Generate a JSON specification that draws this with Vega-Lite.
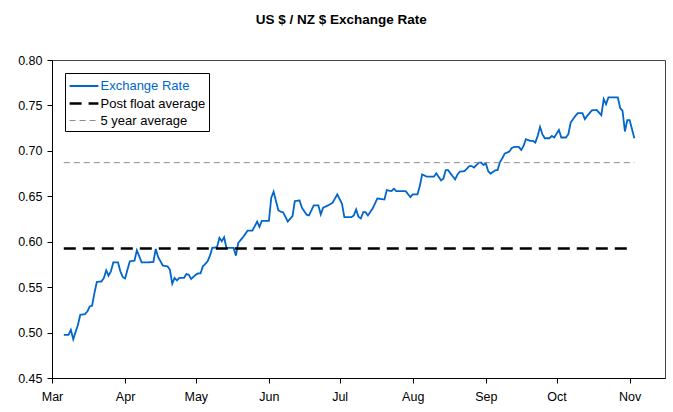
{
  "$schema": "https://vega.github.io/schema/vega-lite/v6.json",
  "width": 613,
  "height": 318,
  "autosize": {"type": "none"},
  "padding": {"left": 52, "top": 60, "right": 8, "bottom": 34},
  "background": "white",
  "title": {"text": "US $ / NZ $ Exchange Rate", "font": "Liberation Sans", "fontSize": 13.5, "fontWeight": "bold", "color": "#000000", "anchor": "middle", "frame": "bounds", "offset": 28},
  "config": {
    "font": "Liberation Sans",
    "view": {"stroke": "#444444", "strokeWidth": 1},
    "axis": {"labelFont": "Liberation Sans", "labelFontSize": 12.5, "labelColor": "#000000", "domainColor": "#000000", "tickColor": "#000000", "tickSize": 5, "grid": false, "title": null}
  },
  "data": {"values": [
    {"date": "2009-03-06", "rate": 0.4975, "series": "Exchange Rate"},
    {"date": "2009-03-08", "rate": 0.4975, "series": "Exchange Rate"},
    {"date": "2009-03-09", "rate": 0.503, "series": "Exchange Rate"},
    {"date": "2009-03-10", "rate": 0.4927, "series": "Exchange Rate"},
    {"date": "2009-03-12", "rate": 0.5085, "series": "Exchange Rate"},
    {"date": "2009-03-13", "rate": 0.5196, "series": "Exchange Rate"},
    {"date": "2009-03-15", "rate": 0.5203, "series": "Exchange Rate"},
    {"date": "2009-03-16", "rate": 0.5232, "series": "Exchange Rate"},
    {"date": "2009-03-17", "rate": 0.5287, "series": "Exchange Rate"},
    {"date": "2009-03-18", "rate": 0.5295, "series": "Exchange Rate"},
    {"date": "2009-03-19", "rate": 0.5435, "series": "Exchange Rate"},
    {"date": "2009-03-20", "rate": 0.5557, "series": "Exchange Rate"},
    {"date": "2009-03-22", "rate": 0.5563, "series": "Exchange Rate"},
    {"date": "2009-03-23", "rate": 0.5601, "series": "Exchange Rate"},
    {"date": "2009-03-24", "rate": 0.5685, "series": "Exchange Rate"},
    {"date": "2009-03-25", "rate": 0.5626, "series": "Exchange Rate"},
    {"date": "2009-03-26", "rate": 0.5674, "series": "Exchange Rate"},
    {"date": "2009-03-27", "rate": 0.5773, "series": "Exchange Rate"},
    {"date": "2009-03-29", "rate": 0.5773, "series": "Exchange Rate"},
    {"date": "2009-03-30", "rate": 0.5674, "series": "Exchange Rate"},
    {"date": "2009-03-31", "rate": 0.5612, "series": "Exchange Rate"},
    {"date": "2009-04-01", "rate": 0.5596, "series": "Exchange Rate"},
    {"date": "2009-04-02", "rate": 0.5692, "series": "Exchange Rate"},
    {"date": "2009-04-03", "rate": 0.5784, "series": "Exchange Rate"},
    {"date": "2009-04-05", "rate": 0.5792, "series": "Exchange Rate"},
    {"date": "2009-04-06", "rate": 0.5906, "series": "Exchange Rate"},
    {"date": "2009-04-08", "rate": 0.5773, "series": "Exchange Rate"},
    {"date": "2009-04-11", "rate": 0.5773, "series": "Exchange Rate"},
    {"date": "2009-04-13", "rate": 0.5777, "series": "Exchange Rate"},
    {"date": "2009-04-14", "rate": 0.5921, "series": "Exchange Rate"},
    {"date": "2009-04-15", "rate": 0.5833, "series": "Exchange Rate"},
    {"date": "2009-04-17", "rate": 0.5737, "series": "Exchange Rate"},
    {"date": "2009-04-19", "rate": 0.5729, "series": "Exchange Rate"},
    {"date": "2009-04-20", "rate": 0.5692, "series": "Exchange Rate"},
    {"date": "2009-04-21", "rate": 0.5538, "series": "Exchange Rate"},
    {"date": "2009-04-22", "rate": 0.5601, "series": "Exchange Rate"},
    {"date": "2009-04-23", "rate": 0.5574, "series": "Exchange Rate"},
    {"date": "2009-04-24", "rate": 0.5601, "series": "Exchange Rate"},
    {"date": "2009-04-26", "rate": 0.5601, "series": "Exchange Rate"},
    {"date": "2009-04-27", "rate": 0.5645, "series": "Exchange Rate"},
    {"date": "2009-04-28", "rate": 0.5637, "series": "Exchange Rate"},
    {"date": "2009-04-29", "rate": 0.559, "series": "Exchange Rate"},
    {"date": "2009-05-01", "rate": 0.5637, "series": "Exchange Rate"},
    {"date": "2009-05-02", "rate": 0.5652, "series": "Exchange Rate"},
    {"date": "2009-05-03", "rate": 0.5652, "series": "Exchange Rate"},
    {"date": "2009-05-04", "rate": 0.5729, "series": "Exchange Rate"},
    {"date": "2009-05-06", "rate": 0.5784, "series": "Exchange Rate"},
    {"date": "2009-05-07", "rate": 0.5847, "series": "Exchange Rate"},
    {"date": "2009-05-08", "rate": 0.5932, "series": "Exchange Rate"},
    {"date": "2009-05-10", "rate": 0.5939, "series": "Exchange Rate"},
    {"date": "2009-05-11", "rate": 0.6042, "series": "Exchange Rate"},
    {"date": "2009-05-12", "rate": 0.6005, "series": "Exchange Rate"},
    {"date": "2009-05-13", "rate": 0.6049, "series": "Exchange Rate"},
    {"date": "2009-05-14", "rate": 0.5932, "series": "Exchange Rate"},
    {"date": "2009-05-17", "rate": 0.5932, "series": "Exchange Rate"},
    {"date": "2009-05-18", "rate": 0.5847, "series": "Exchange Rate"},
    {"date": "2009-05-19", "rate": 0.5987, "series": "Exchange Rate"},
    {"date": "2009-05-21", "rate": 0.6049, "series": "Exchange Rate"},
    {"date": "2009-05-23", "rate": 0.6123, "series": "Exchange Rate"},
    {"date": "2009-05-25", "rate": 0.6123, "series": "Exchange Rate"},
    {"date": "2009-05-26", "rate": 0.617, "series": "Exchange Rate"},
    {"date": "2009-05-27", "rate": 0.6222, "series": "Exchange Rate"},
    {"date": "2009-05-28", "rate": 0.6164, "series": "Exchange Rate"},
    {"date": "2009-05-29", "rate": 0.623, "series": "Exchange Rate"},
    {"date": "2009-06-01", "rate": 0.623, "series": "Exchange Rate"},
    {"date": "2009-06-02", "rate": 0.6484, "series": "Exchange Rate"},
    {"date": "2009-06-03", "rate": 0.655, "series": "Exchange Rate"},
    {"date": "2009-06-05", "rate": 0.6347, "series": "Exchange Rate"},
    {"date": "2009-06-06", "rate": 0.633, "series": "Exchange Rate"},
    {"date": "2009-06-07", "rate": 0.6325, "series": "Exchange Rate"},
    {"date": "2009-06-08", "rate": 0.6274, "series": "Exchange Rate"},
    {"date": "2009-06-09", "rate": 0.6222, "series": "Exchange Rate"},
    {"date": "2009-06-11", "rate": 0.6281, "series": "Exchange Rate"},
    {"date": "2009-06-12", "rate": 0.6447, "series": "Exchange Rate"},
    {"date": "2009-06-14", "rate": 0.6454, "series": "Exchange Rate"},
    {"date": "2009-06-15", "rate": 0.6374, "series": "Exchange Rate"},
    {"date": "2009-06-17", "rate": 0.6296, "series": "Exchange Rate"},
    {"date": "2009-06-18", "rate": 0.6289, "series": "Exchange Rate"},
    {"date": "2009-06-20", "rate": 0.6399, "series": "Exchange Rate"},
    {"date": "2009-06-22", "rate": 0.6399, "series": "Exchange Rate"},
    {"date": "2009-06-23", "rate": 0.63, "series": "Exchange Rate"},
    {"date": "2009-06-24", "rate": 0.6374, "series": "Exchange Rate"},
    {"date": "2009-06-26", "rate": 0.6399, "series": "Exchange Rate"},
    {"date": "2009-06-28", "rate": 0.6429, "series": "Exchange Rate"},
    {"date": "2009-06-30", "rate": 0.652, "series": "Exchange Rate"},
    {"date": "2009-07-02", "rate": 0.6418, "series": "Exchange Rate"},
    {"date": "2009-07-03", "rate": 0.627, "series": "Exchange Rate"},
    {"date": "2009-07-06", "rate": 0.627, "series": "Exchange Rate"},
    {"date": "2009-07-07", "rate": 0.6289, "series": "Exchange Rate"},
    {"date": "2009-07-08", "rate": 0.6355, "series": "Exchange Rate"},
    {"date": "2009-07-09", "rate": 0.6274, "series": "Exchange Rate"},
    {"date": "2009-07-10", "rate": 0.6256, "series": "Exchange Rate"},
    {"date": "2009-07-11", "rate": 0.6325, "series": "Exchange Rate"},
    {"date": "2009-07-12", "rate": 0.6325, "series": "Exchange Rate"},
    {"date": "2009-07-13", "rate": 0.6289, "series": "Exchange Rate"},
    {"date": "2009-07-15", "rate": 0.6366, "series": "Exchange Rate"},
    {"date": "2009-07-17", "rate": 0.6476, "series": "Exchange Rate"},
    {"date": "2009-07-20", "rate": 0.6465, "series": "Exchange Rate"},
    {"date": "2009-07-21", "rate": 0.6568, "series": "Exchange Rate"},
    {"date": "2009-07-23", "rate": 0.6557, "series": "Exchange Rate"},
    {"date": "2009-07-24", "rate": 0.6583, "series": "Exchange Rate"},
    {"date": "2009-07-25", "rate": 0.6557, "series": "Exchange Rate"},
    {"date": "2009-07-29", "rate": 0.6557, "series": "Exchange Rate"},
    {"date": "2009-07-31", "rate": 0.6491, "series": "Exchange Rate"},
    {"date": "2009-08-01", "rate": 0.652, "series": "Exchange Rate"},
    {"date": "2009-08-03", "rate": 0.652, "series": "Exchange Rate"},
    {"date": "2009-08-04", "rate": 0.6612, "series": "Exchange Rate"},
    {"date": "2009-08-05", "rate": 0.6741, "series": "Exchange Rate"},
    {"date": "2009-08-07", "rate": 0.6716, "series": "Exchange Rate"},
    {"date": "2009-08-10", "rate": 0.6716, "series": "Exchange Rate"},
    {"date": "2009-08-11", "rate": 0.6752, "series": "Exchange Rate"},
    {"date": "2009-08-13", "rate": 0.6675, "series": "Exchange Rate"},
    {"date": "2009-08-14", "rate": 0.6694, "series": "Exchange Rate"},
    {"date": "2009-08-15", "rate": 0.6789, "series": "Exchange Rate"},
    {"date": "2009-08-16", "rate": 0.6789, "series": "Exchange Rate"},
    {"date": "2009-08-17", "rate": 0.6752, "series": "Exchange Rate"},
    {"date": "2009-08-19", "rate": 0.6686, "series": "Exchange Rate"},
    {"date": "2009-08-20", "rate": 0.6741, "series": "Exchange Rate"},
    {"date": "2009-08-21", "rate": 0.6771, "series": "Exchange Rate"},
    {"date": "2009-08-23", "rate": 0.6778, "series": "Exchange Rate"},
    {"date": "2009-08-25", "rate": 0.6833, "series": "Exchange Rate"},
    {"date": "2009-08-26", "rate": 0.6833, "series": "Exchange Rate"},
    {"date": "2009-08-27", "rate": 0.6815, "series": "Exchange Rate"},
    {"date": "2009-08-29", "rate": 0.687, "series": "Exchange Rate"},
    {"date": "2009-08-30", "rate": 0.687, "series": "Exchange Rate"},
    {"date": "2009-08-31", "rate": 0.6844, "series": "Exchange Rate"},
    {"date": "2009-09-01", "rate": 0.6863, "series": "Exchange Rate"},
    {"date": "2009-09-02", "rate": 0.6778, "series": "Exchange Rate"},
    {"date": "2009-09-03", "rate": 0.6749, "series": "Exchange Rate"},
    {"date": "2009-09-05", "rate": 0.6785, "series": "Exchange Rate"},
    {"date": "2009-09-06", "rate": 0.6789, "series": "Exchange Rate"},
    {"date": "2009-09-07", "rate": 0.6877, "series": "Exchange Rate"},
    {"date": "2009-09-08", "rate": 0.6918, "series": "Exchange Rate"},
    {"date": "2009-09-09", "rate": 0.697, "series": "Exchange Rate"},
    {"date": "2009-09-11", "rate": 0.6993, "series": "Exchange Rate"},
    {"date": "2009-09-12", "rate": 0.7031, "series": "Exchange Rate"},
    {"date": "2009-09-13", "rate": 0.7043, "series": "Exchange Rate"},
    {"date": "2009-09-15", "rate": 0.7043, "series": "Exchange Rate"},
    {"date": "2009-09-16", "rate": 0.701, "series": "Exchange Rate"},
    {"date": "2009-09-17", "rate": 0.7054, "series": "Exchange Rate"},
    {"date": "2009-09-18", "rate": 0.7128, "series": "Exchange Rate"},
    {"date": "2009-09-20", "rate": 0.7109, "series": "Exchange Rate"},
    {"date": "2009-09-21", "rate": 0.7109, "series": "Exchange Rate"},
    {"date": "2009-09-22", "rate": 0.7091, "series": "Exchange Rate"},
    {"date": "2009-09-23", "rate": 0.7164, "series": "Exchange Rate"},
    {"date": "2009-09-24", "rate": 0.7264, "series": "Exchange Rate"},
    {"date": "2009-09-25", "rate": 0.7183, "series": "Exchange Rate"},
    {"date": "2009-09-26", "rate": 0.7139, "series": "Exchange Rate"},
    {"date": "2009-09-28", "rate": 0.7139, "series": "Exchange Rate"},
    {"date": "2009-09-29", "rate": 0.7164, "series": "Exchange Rate"},
    {"date": "2009-09-30", "rate": 0.7147, "series": "Exchange Rate"},
    {"date": "2009-10-02", "rate": 0.723, "series": "Exchange Rate"},
    {"date": "2009-10-03", "rate": 0.7147, "series": "Exchange Rate"},
    {"date": "2009-10-05", "rate": 0.7147, "series": "Exchange Rate"},
    {"date": "2009-10-06", "rate": 0.7183, "series": "Exchange Rate"},
    {"date": "2009-10-07", "rate": 0.7312, "series": "Exchange Rate"},
    {"date": "2009-10-08", "rate": 0.7349, "series": "Exchange Rate"},
    {"date": "2009-10-09", "rate": 0.7385, "series": "Exchange Rate"},
    {"date": "2009-10-10", "rate": 0.7415, "series": "Exchange Rate"},
    {"date": "2009-10-12", "rate": 0.7415, "series": "Exchange Rate"},
    {"date": "2009-10-13", "rate": 0.7349, "series": "Exchange Rate"},
    {"date": "2009-10-14", "rate": 0.7385, "series": "Exchange Rate"},
    {"date": "2009-10-16", "rate": 0.7446, "series": "Exchange Rate"},
    {"date": "2009-10-18", "rate": 0.745, "series": "Exchange Rate"},
    {"date": "2009-10-20", "rate": 0.7393, "series": "Exchange Rate"},
    {"date": "2009-10-21", "rate": 0.7569, "series": "Exchange Rate"},
    {"date": "2009-10-22", "rate": 0.7514, "series": "Exchange Rate"},
    {"date": "2009-10-23", "rate": 0.7588, "series": "Exchange Rate"},
    {"date": "2009-10-27", "rate": 0.7588, "series": "Exchange Rate"},
    {"date": "2009-10-28", "rate": 0.747, "series": "Exchange Rate"},
    {"date": "2009-10-29", "rate": 0.744, "series": "Exchange Rate"},
    {"date": "2009-10-30", "rate": 0.7213, "series": "Exchange Rate"},
    {"date": "2009-10-31", "rate": 0.7338, "series": "Exchange Rate"},
    {"date": "2009-11-01", "rate": 0.7338, "series": "Exchange Rate"},
    {"date": "2009-11-03", "rate": 0.7139, "series": "Exchange Rate"},
    {"date": "2009-03-06", "rate": 0.5925, "series": "Post float average"},
    {"date": "2009-11-01", "rate": 0.5925, "series": "Post float average"},
    {"date": "2009-03-06", "rate": 0.687, "series": "5 year average"},
    {"date": "2009-11-03", "rate": 0.687, "series": "5 year average"}
  ]},
  "mark": {"type": "line", "interpolate": "linear"},
  "encoding": {
    "x": {
      "field": "date", "type": "temporal",
      "scale": {"domain": ["2009-03-01", "2009-11-16"], "nice": false},
      "axis": {"format": "%b", "tickCount": {"interval": "month", "step": 1}, "labelPadding": 7, "labelAlign": "center"}
    },
    "y": {
      "field": "rate", "type": "quantitative",
      "scale": {"domain": [0.45, 0.8], "nice": false, "zero": false},
      "axis": {"format": ".2f", "values": [0.45, 0.5, 0.55, 0.6, 0.65, 0.7, 0.75, 0.8], "labelPadding": 5}
    },
    "color": {
      "field": "series", "type": "nominal",
      "scale": {"domain": ["Exchange Rate", "Post float average", "5 year average"], "range": ["#0066CC", "#000000", "#8c8c8c"]},
      "legend": {
        "title": null, "orient": "top-left", "offset": 13, "symbolType": "M-1.6,0H1.6", "symbolSize": 324,
        "symbolOffset": 5.5,
        "labelFont": "Liberation Sans", "labelFontSize": 13, "labelOffset": 6, "labelColor": "#000000",
        "strokeColor": "#000000", "fillColor": "#ffffff", "padding": 3, "rowPadding": 0,
        "encode": {"labels": {"update": {"fill": {"signal": "datum.label === 'Exchange Rate' ? '#0066CC' : '#000000'"}}}}
      }
    },
    "strokeDash": {
      "field": "series", "type": "nominal",
      "scale": {"domain": ["Exchange Rate", "Post float average", "5 year average"], "range": [[1, 0], [12, 7], [6, 4]]},
      "legend": null
    },
    "strokeWidth": {
      "field": "series", "type": "nominal",
      "scale": {"type": "ordinal", "domain": ["Exchange Rate", "Post float average", "5 year average"], "range": [1.8, 2.5, 1]},
      "legend": null
    }
  }
}
